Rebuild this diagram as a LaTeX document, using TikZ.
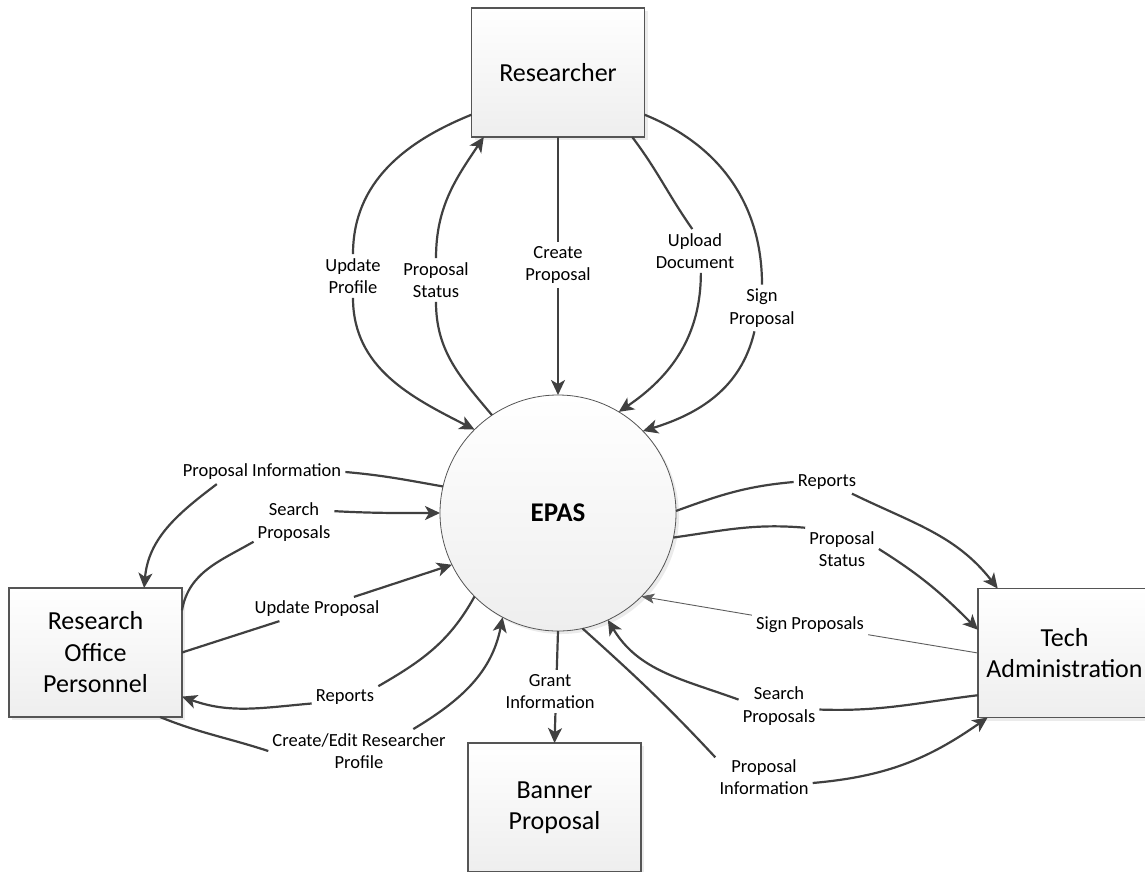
\documentclass[tikz,border=0pt]{standalone}
\usepackage{fontspec}
\setmainfont{Carlito}
\usetikzlibrary{arrows.meta,positioning,shadows}

\definecolor{flowgray}{RGB}{64,64,64}
\definecolor{boxgray}{RGB}{85,85,85}
\definecolor{fillgray}{RGB}{238,238,238}

\begin{document}
\begin{tikzpicture}[
  x=1pt, y=1pt,
  entity/.style={draw=boxgray, line width=1.1pt, top color=white, bottom color=fillgray, minimum width=173pt, minimum height=129pt, inner sep=2pt, outer sep=0pt, align=center, font=\fontsize{26}{31.5}\selectfont, drop shadow={shadow xshift=3pt, shadow yshift=-3pt, fill=black!20, opacity=0.4}},
  process/.style={circle, draw=boxgray, line width=0.8pt, top color=white, bottom color=fillgray, minimum size=236pt, inner sep=0pt, outer sep=0pt, font=\fontsize{27}{32}\selectfont\bfseries, drop shadow={shadow xshift=3pt, shadow yshift=-3pt, fill=black!20, opacity=0.4}},
  flowlabel/.style={align=center, inner sep=4pt, font=\fontsize{18.5}{22.5}\selectfont},
  flow/.style={line width=2.2pt, draw=flowgray, -{Stealth[length=15pt,width=14pt,inset=4pt]}},
  thinflow/.style={line width=0.9pt, draw=flowgray!85, -{Stealth[length=13pt,width=10pt,inset=3pt]}}
]
\useasboundingbox (0,0) rectangle (1145,-871);
% Process and entities
\node[process] (epas) at (558,-513) {EPAS};
\node[entity, above=258pt of epas] (researcher) {Researcher};
\node[entity, below=112pt of epas, xshift=-3.5pt] (banner) {Banner\\Proposal};
\node[entity] (rop) at (95.5,-652.5) {Research\\Office\\Personnel};
\node[entity] (tech) at (1064.5,-653) {Tech\\Administration};
% Researcher flows
\node[flowlabel] (lUpdProf) at (353,-276) {Update\\Profile};
\node[flowlabel] (lPropStat) at (436,-280) {Proposal\\Status};
\node[flowlabel] (lCreate) at (558,-265) {Create\\Proposal};
\node[flowlabel] (lUpload) at (695,-251) {Upload\\Document};
\node[flowlabel] (lSign) at (762,-308) {Sign\\Proposal};
\draw[flow] (researcher.206) to[out=202,in=90] (lUpdProf.north) (lUpdProf.south) to[out=-90,in=153] (epas.135);
\draw[flow] (epas.124) to[out=130,in=-90] (lPropStat.south) (lPropStat.north) to[out=90,in=236] (researcher.221);
\draw[flow] (researcher.south) -- (lCreate) -- (epas.north);
\draw[flow] (researcher.-41) to[out=-53,in=125] (lUpload.97) (lUpload.-75) to[out=-90,in=34] (epas.59);
\draw[flow] (researcher.-26) to[out=-22,in=90] (lSign.north) (lSign.252) to[out=257,in=17] (epas.44);
% Research office flows
\node[flowlabel] (lPropInfoL) at (262,-472) {Proposal Information};
\node[flowlabel] (lSearchL) at (294,-522) {Search\\Proposals};
\node[flowlabel] (lUpdProp) at (317,-609) {Update Proposal};
\node[flowlabel] (lRepL) at (345,-697) {Reports};
\node[flowlabel] (lCreateEdit) at (359,-751) {Create/Edit Researcher\\Profile};
\draw[flow] (epas.167) to[out=170,in=-5] (lPropInfoL.east) (lPropInfoL.195) to[out=217,in=85] (rop.53);
\draw[flow] (rop.26) to[out=80,in=210] (lSearchL.206) (lSearchL.15) to[out=-3,in=180] (epas.west);
\draw[flow] (rop.east) -- (lUpdProp) -- (epas.206);
\draw[flow] (epas.225) to[out=241,in=30] (lRepL.18) (lRepL.191) to[out=185,in=-20] (rop.-27);
\draw[flow] (rop.-45) to[out=-22,in=162] (lCreateEdit.west) (lCreateEdit.22) to[out=31,in=-101] (epas.242);
% Banner flow
\draw[flow] (epas.south) -- (banner.north) node[flowlabel, fill=white, pos=0.54, xshift=-6pt] (lGrant) {Grant\\Information};
% Tech administration flows
\node[flowlabel] (lRepR) at (827,-482) {Reports};
\node[flowlabel] (lPropStatR) at (842,-549) {Proposal\\Status};
\node[flowlabel] (lSignR) at (810,-625) {Sign Proposals};
\node[flowlabel] (lSearchR) at (779,-706) {Search\\Proposals};
\node[flowlabel] (lPropInfoR) at (764,-777) {Proposal\\Information};
\draw[flow] (epas.1) to[out=20,in=185] (lRepR.west) (lRepR.-25) to[out=-26,in=128] (tech.136);
\draw[flow] (epas.-12) to[out=8,in=175] (lPropStatR.150) (lPropStatR.east) to[out=-32,in=135] (tech.165);
\draw[thinflow] (tech.west) -- (lSignR) -- (epas.-45);
\draw[flow] (tech.206) to[out=187,in=-2] (lSearchR.-5) (lSearchR.171) to[out=160,in=-59] (epas.-65);
\draw[flow] (epas.-78) to[out=-42,in=133] (lPropInfoR.158) (lPropInfoR.-7) to[out=5,in=215] (tech.220);
\end{tikzpicture}
\end{document}
